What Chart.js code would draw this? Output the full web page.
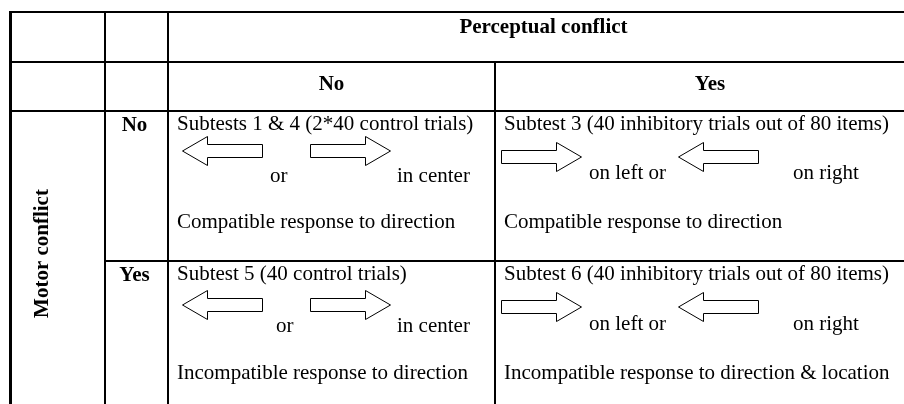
<!DOCTYPE html>
<html>
<head>
<meta charset="utf-8">
<script src="https://cdn.jsdelivr.net/npm/chart.js@4.4.1/dist/chart.umd.min.js"></script>
<style>
    html, body { margin: 0; padding: 0; background: #fff; }
    #wrap { width: 904px; height: 404px; position: relative; }
</style>
</head>
<body>
<div id="wrap"><canvas id="myChart"></canvas></div>
<script>
// table content
const groupHeader = 'Perceptual conflict'
const sideHeader = 'Motor conflict'
const perceptualLevels = ['No', 'Yes']
const motorLevels = ['No', 'Yes']
const subtests = [
    ['Subtests 1 & 4 (2*40 control trials)', 'Subtest 3 (40 inhibitory trials out of 80 items)'],
    ['Subtest 5 (40 control trials)', 'Subtest 6 (40 inhibitory trials out of 80 items)']
]
const responses = [
    ['Compatible response to direction', 'Compatible response to direction'],
    ['Incompatible response to direction', 'Incompatible response to direction & location']
]
// stimuli per perceptual level: arrow, words, arrow, words
const firstArrow = ['left', 'right']
const firstWord = ['or', 'on left or']
const secondArrow = ['right', 'left']
const secondWord = ['in center', 'on right']

// layout (in the 904 x 404 units of the hidden scales), indexed [row][col]
const colEdges = [10, 105, 168, 495, 925]
const rowEdges = [11, 62, 111, 261, 404]
const arrowDx = [[54, 183], [47, 223]]
const arrowDy = [[40, 46], [44, 46]]
const wordDx = [[[102, 229], [94, 298]], [[108, 229], [94, 298]]]
const wordDy = [[71, 68], [71, 69]]
const responseDy = [117, 118]

const serif = "'Liberation Serif', 'Times New Roman', serif"

// one arrow drawing, used as point style (rotated for left)
function makeArrow() {
    const c = document.createElement('canvas')
    c.width = 84
    c.height = 32
    const ctx = c.getContext('2d')
    ctx.beginPath()
    ctx.moveTo(1.5, 9.5)
    ctx.lineTo(56.5, 9.5)
    ctx.lineTo(56.5, 1.5)
    ctx.lineTo(81.5, 16)
    ctx.lineTo(56.5, 30.5)
    ctx.lineTo(56.5, 22.5)
    ctx.lineTo(1.5, 22.5)
    ctx.closePath()
    ctx.fillStyle = '#fff'
    ctx.fill()
    ctx.strokeStyle = '#000'
    ctx.lineWidth = 1
    ctx.stroke()
    return c
}
const arrow = makeArrow()

// arrow points from the stimuli arrays
const rightPts = []
const leftPts = []
motorLevels.forEach((m, r) => {
    perceptualLevels.forEach((p, c) => {
        const x0 = colEdges[2 + c]
        const y0 = rowEdges[2 + r]
        const dirs = [firstArrow[c], secondArrow[c]]
        dirs.forEach((d, k) => {
            const pt = { x: x0 + arrowDx[c][k], y: y0 + arrowDy[r][c] }
            if (d === 'right') rightPts.push(pt)
            else leftPts.push(pt)
        })
    })
})

const tablePlugin = {
    id: 'table',
    beforeDraw(chart) {
        const ctx = chart.ctx
        ctx.save()
        ctx.fillStyle = '#fff'
        ctx.fillRect(0, 0, chart.width, chart.height)
        ctx.restore()
    },
    beforeDatasetsDraw(chart) {
        const ctx = chart.ctx
        const px = v => chart.scales.x.getPixelForValue(v)
        const py = v => chart.scales.y.getPixelForValue(v)
        const right = colEdges[colEdges.length - 1]
        const bottom = rowEdges[rowEdges.length - 1]
        ctx.save()
        ctx.fillStyle = '#000'
        // horizontal rules
        ctx.fillRect(px(colEdges[0]) - 1, py(rowEdges[0]), px(right) - px(colEdges[0]), 2)
        ctx.fillRect(px(colEdges[0]) - 1, py(rowEdges[1]) - 1, px(right) - px(colEdges[0]), 2)
        ctx.fillRect(px(colEdges[0]) - 1, py(rowEdges[2]) - 1, px(right) - px(colEdges[0]), 2)
        ctx.fillRect(px(colEdges[1]) - 1, py(rowEdges[3]) - 1, px(right) - px(colEdges[1]), 2)
        // vertical rules
        ctx.fillRect(px(colEdges[0]) - 1, py(rowEdges[0]), 3, py(bottom) - py(rowEdges[0]))
        ctx.fillRect(px(colEdges[1]) - 1, py(rowEdges[0]), 2, py(bottom) - py(rowEdges[0]))
        ctx.fillRect(px(colEdges[2]) - 1, py(rowEdges[0]), 2, py(bottom) - py(rowEdges[0]))
        ctx.fillRect(px(colEdges[3]) - 1, py(rowEdges[1]), 2, py(bottom) - py(rowEdges[1]))
        ctx.restore()
    },
    afterDraw(chart) {
        const ctx = chart.ctx
        const px = v => chart.scales.x.getPixelForValue(v)
        const py = v => chart.scales.y.getPixelForValue(v)
        ctx.save()
        ctx.fillStyle = '#000'
        ctx.textBaseline = 'alphabetic'

        // headers
        ctx.font = 'bold 21px ' + serif
        ctx.textAlign = 'center'
        ctx.fillText(groupHeader, px((colEdges[2] + colEdges[4]) / 2) - 3, py(rowEdges[0] + 22))
        perceptualLevels.forEach((p, c) => {
            ctx.fillText(p, px((colEdges[2 + c] + colEdges[3 + c]) / 2), py(rowEdges[1] + 28))
        })
        motorLevels.forEach((m, r) => {
            ctx.fillText(m, px((colEdges[1] + colEdges[2]) / 2) - 2, py(rowEdges[2 + r] + 20))
        })
        ctx.save()
        ctx.translate(px(43), py((rowEdges[2] + 400) / 2) - 2)
        ctx.rotate(-Math.PI / 2)
        ctx.textBaseline = 'middle'
        ctx.fillText(sideHeader, 0, 0)
        ctx.restore()

        // cells
        ctx.font = '21px ' + serif
        ctx.textAlign = 'left'
        motorLevels.forEach((m, r) => {
            perceptualLevels.forEach((p, c) => {
                const x0 = colEdges[2 + c]
                const y0 = rowEdges[2 + r]
                ctx.fillText(subtests[r][c], px(x0 + 9), py(y0 + 19))
                ctx.fillText(firstWord[c], px(x0 + wordDx[r][c][0]), py(y0 + wordDy[r][c]))
                ctx.fillText(secondWord[c], px(x0 + wordDx[r][c][1]), py(y0 + wordDy[r][c]))
                ctx.fillText(responses[r][c], px(x0 + 9), py(y0 + responseDy[r]))
            })
        })
        ctx.restore()
    }
}

const config = {
    type: 'scatter',
    data: {
        datasets: [
            {
                label: 'right arrows',
                data: rightPts,
                pointStyle: arrow,
                pointRotation: 0,
                pointRadius: 3
            },
            {
                label: 'left arrows',
                data: leftPts,
                pointStyle: arrow,
                pointRotation: 180,
                pointRadius: 3
            }
        ]
    },
    options: {
        responsive: true,
        maintainAspectRatio: false,
        animation: false,
        events: [],
        layout: { padding: 0, autoPadding: false },
        plugins: {
            legend: { display: false },
            tooltip: { enabled: false }
        },
        scales: {
            x: { type: 'linear', min: 0, max: 904, display: false },
            y: { type: 'linear', min: 0, max: 404, reverse: true, display: false }
        }
    },
    plugins: [tablePlugin]
}

new Chart(document.getElementById('myChart'), config)
</script>
</body>
</html>
